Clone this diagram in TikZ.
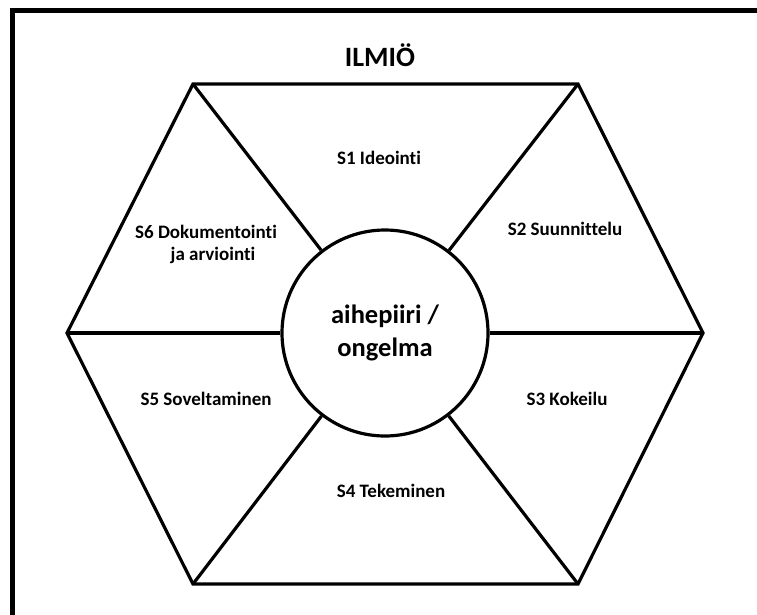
\documentclass[tikz,border=0pt]{standalone}
\usepackage{fontspec}
\setmainfont[Ligatures=NoCommon]{Carlito}
\begin{document}
\begin{tikzpicture}[x=1pt,y=-1pt,
  edge/.style={line width=3.2pt,line join=miter},
  lbl/.style={font=\bfseries\fontsize{19}{23}\selectfont,align=center,inner sep=0pt}]
\useasboundingbox (0,0) rectangle (757,614);
\fill[white] (0,0) rectangle (757,614);
% frame (only top and left visible)
\coordinate (fTL) at (12.5,10.5);
\coordinate (fTR) at (760,10.5);
\coordinate (fBL) at (12.5,620);
\draw[line width=5pt] (fBL) -- (fTL) -- (fTR);
% hexagon
\coordinate (v1) at (193,84);
\coordinate (v2) at (578,84);
\coordinate (v3) at (703,333);
\coordinate (v4) at (578,584);
\coordinate (v5) at (193,584);
\coordinate (v6) at (67,333);
\draw[edge] (v1) -- (v2) -- (v3) -- (v4) -- (v5) -- (v6) -- cycle;
\node[circle,draw,line width=3.2pt,minimum size=206pt,inner sep=0pt,
  font=\bfseries\fontsize{26.5}{33}\selectfont,align=center] (c) at (385,333) {aihepiiri /\\ongelma};
\foreach \v in {v1,v2,v3,v4,v5,v6} \draw[edge] (c) -- (\v);
\node[font=\bfseries\fontsize{28}{32}\selectfont,inner sep=0pt] (t) at (380,55) {ILMIÖ};
\node[lbl] (s1) at (379,158) {S1 Ideointi};
\node[lbl] (s2) at (565,229) {S2 Suunnittelu};
\node[lbl] (s3) at (567,399) {S3 Kokeilu};
\node[lbl] (s4) at (391,491) {S4 Tekeminen};
\node[lbl] (s5) at (206,399) {S5 Soveltaminen};
\node[lbl] (s6a) at (206,232) {S6 Dokumentointi};
\node[lbl] (s6b) at (213,255) {ja arviointi};
\end{tikzpicture}
\end{document}
